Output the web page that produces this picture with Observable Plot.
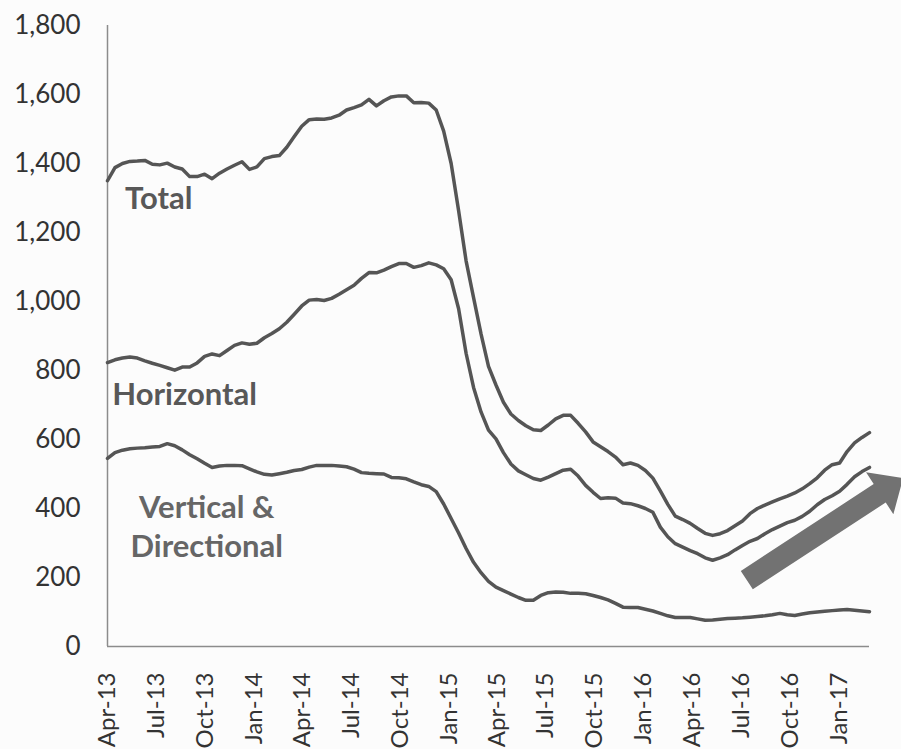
<!DOCTYPE html>
<html><head><meta charset="utf-8">
<script src="https://cdn.jsdelivr.net/npm/d3@7"></script>
<script src="https://cdn.jsdelivr.net/npm/@observablehq/plot@0.6"></script>
<style>
html,body{margin:0;padding:0;background:#fcfcfc;}
g[aria-label^="x-axis"] text{font-size:24px;}
g[aria-label^="y-axis"] text{font-size:26px;}
</style></head><body><div id="chart"></div><script>
// Biweekly sample dates starting here
const startDate = "2013-04-05";
const stepDays = 14;

// US oil rig counts (biweekly)
const total = [1350,1388,1400,1406,1407,1409,1398,1396,1401,1390,1384,1362,1362,1369,1356,1372,1384,1395,1405,1383,
  1390,1414,1420,1423,1447,1478,1508,1527,1529,1528,1532,1540,1555,1562,1570,1586,1567,1582,1593,1596,
  1596,1576,1577,1575,1555,1494,1400,1263,1118,1011,906,812,758,708,674,655,640,628,626,642,
  660,670,670,647,622,593,579,565,549,527,532,525,510,488,451,412,378,368,357,342,
  328,322,327,336,350,364,385,400,410,419,428,436,445,457,472,489,511,527,532,565,
  590,606,620];
const horizontal = [823,831,836,839,836,828,821,815,808,801,810,810,822,841,848,843,858,873,880,876,
  879,895,907,921,940,963,987,1004,1006,1003,1009,1021,1034,1047,1067,1084,1083,1091,1101,1110,
  1110,1099,1104,1112,1106,1095,1063,979,850,751,680,627,602,562,529,509,498,487,482,491,
  501,511,514,494,467,447,429,431,430,416,414,408,400,389,346,318,298,288,278,269,
  257,250,257,266,280,293,305,313,327,339,349,359,366,377,392,411,426,437,450,470,
  492,507,519];
const vertDir = [545,562,569,573,575,576,578,580,588,582,570,556,544,531,519,523,525,525,524,515,
  506,499,497,501,505,510,513,520,525,525,525,523,521,514,504,502,501,500,490,489,
  486,477,469,464,449,413,371,329,284,244,214,189,172,162,152,142,134,134,148,156,
  158,157,154,154,153,148,142,135,125,114,113,113,108,103,96,89,84,84,84,80,
  76,77,79,81,82,83,85,87,89,92,96,92,90,94,98,100,102,104,106,107,
  105,103,101];

const tickDates = ["2013-04-05","2013-07-05","2013-10-05","2014-01-05","2014-04-05","2014-07-05","2014-10-05","2015-01-05",
  "2015-04-05","2015-07-05","2015-10-05","2016-01-05","2016-04-05","2016-07-05","2016-10-05","2017-01-05"];
const tickLabels = ["Apr-13","Jul-13","Oct-13","Jan-14","Apr-14","Jul-14","Oct-14","Jan-15",
  "Apr-15","Jul-15","Oct-15","Jan-16","Apr-16","Jul-16","Oct-16","Jan-17"];
const yTicks = [0,200,400,600,800,1000,1200,1400,1600,1800];

const labelTexts = ["Total","Horizontal","Vertical &\nDirectional"];
const labelDates = ["2013-05-08","2013-04-14","2013-10-08"];
const labelValues = [1296,730,353];
const labelAnchors = ["start","start","middle"];

const arrowDates = ["2016-07-17","2017-05-06"];
const arrowValues = [191,487];

const parse = d3.utcParse("%Y-%m-%d");
const t0 = parse(startDate);
const dates = total.map((_, i) => d3.utcDay.offset(t0, stepDays * i));
const rows = [
  ...total.map((v, i) => ({date: dates[i], value: v, series: "Total"})),
  ...horizontal.map((v, i) => ({date: dates[i], value: v, series: "Horizontal"})),
  ...vertDir.map((v, i) => ({date: dates[i], value: v, series: "Vertical & Directional"}))
];
const ticks = tickDates.map(parse);
const labels = labelTexts.map((t, i) => ({text: t, date: parse(labelDates[i]), value: labelValues[i], anchor: labelAnchors[i]}));

const axisColor = "#8c8c8c";
const plot = Plot.plot({
  width: 901,
  height: 749,
  marginLeft: 107,
  marginRight: 32,
  marginTop: 25,
  marginBottom: 103,
  style: {background: "#fcfcfc", fontFamily: "Lato, sans-serif", fontSize: "25px", color: "#333"},
  x: {type: "utc", domain: [dates[0], dates[dates.length - 1]], ticks: ticks,
      tickFormat: d => tickLabels[ticks.findIndex(t => +t === +d)], tickRotate: -90,
      tickSize: 0, tickPadding: 26, label: null},
  y: {domain: [0, 1800], ticks: yTicks, tickFormat: d3.format(","), tickSize: 0, tickPadding: 27, label: null},
  marks: [
    Plot.ruleY([0], {stroke: axisColor, strokeWidth: 1.5}),
    Plot.ruleX([dates[0]], {y1: 0, y2: 1800, stroke: axisColor, strokeWidth: 1.5}),
    Plot.line(rows, {x: "date", y: "value", z: "series", stroke: "#555", strokeWidth: 3.5, strokeLinejoin: "round"}),
    Plot.text(labels.filter(d => d.anchor === "start"), {x: "date", y: "value", text: "text", textAnchor: "start",
      fill: "#585858", fontWeight: "bold", fontSize: 31, fontFamily: "Lato, sans-serif"}),
    Plot.text(labels.filter(d => d.anchor === "middle"), {x: "date", y: "value", text: "text", textAnchor: "middle",
      fill: "#666", fontWeight: "bold", fontSize: 31, lineHeight: 1.26, fontFamily: "Lato, sans-serif"})
  ]
});
document.getElementById("chart").appendChild(plot);

// Arrow annotation positioned with the plot's own scales
const sx = plot.scale("x"), sy = plot.scale("y");
const fx = sx.apply ? (v => sx.apply(v)) : d3.scaleUtc(sx.domain, sx.range);
const fy = sy.apply ? (v => sy.apply(v)) : d3.scaleLinear(sy.domain, sy.range);
const S = [fx(parse(arrowDates[0])), fy(arrowValues[0])];
const T = [fx(parse(arrowDates[1])), fy(arrowValues[1])];
const L = Math.hypot(T[0] - S[0], T[1] - S[1]);
const u = [(T[0] - S[0]) / L, (T[1] - S[1]) / L];
const n = [-u[1], u[0]];
const bw = 11, hw = 25, hl = 28;
const B = [T[0] - u[0] * hl, T[1] - u[1] * hl];
const p = (c, k) => [c[0] + n[0] * k, c[1] + n[1] * k];
const pts = [p(S, bw), p(B, bw), p(B, hw), T, p(B, -hw), p(B, -bw), p(S, -bw)];
d3.select(plot).append("path")
  .attr("d", "M" + pts.map(q => q.join(",")).join("L") + "Z")
  .attr("fill", "#727272");
</script></body></html>
